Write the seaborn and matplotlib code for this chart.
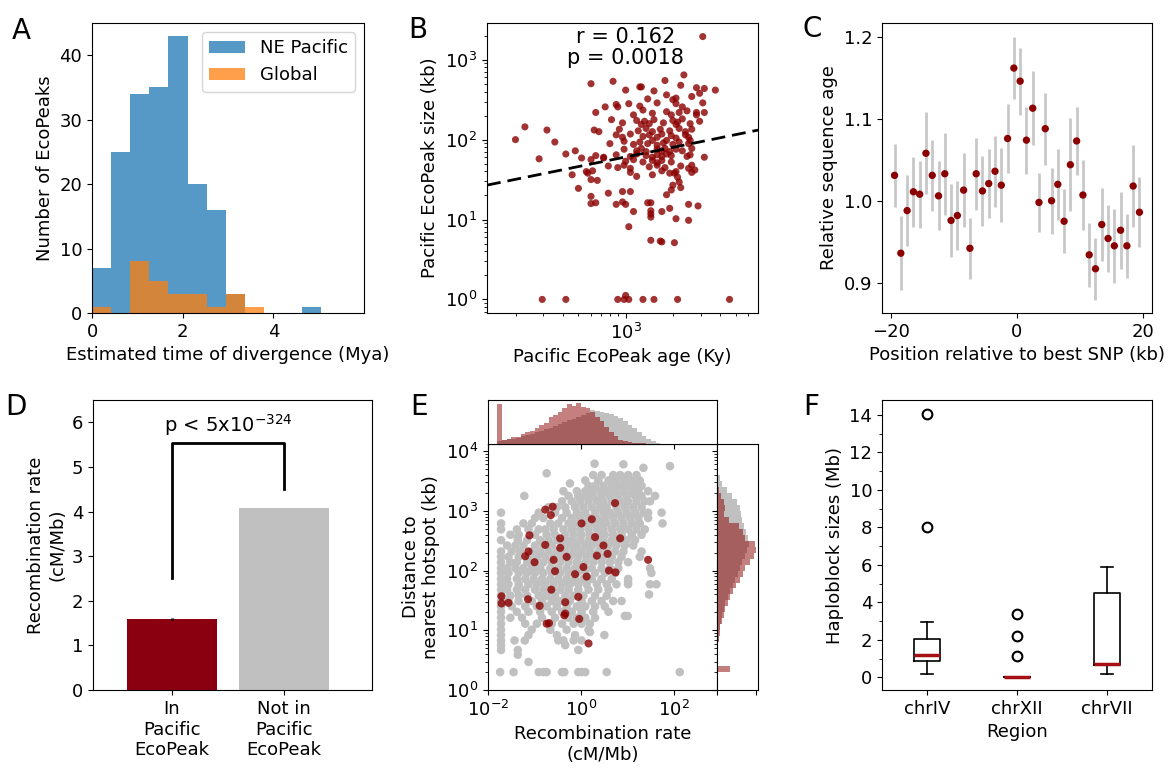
import numpy as np
import pandas as pd
import matplotlib
matplotlib.use("Agg")
import matplotlib.pyplot as plt
import seaborn as sns
from matplotlib.ticker import NullLocator, MultipleLocator

plt.rcParams["font.family"] = ["DejaVu Sans"]
plt.rcParams["font.size"] = 13

DARKRED = "#8b0000"

# ---- A: histogram of divergence times (counts per bin)
a_bin_max = 5.06
ne_counts = [7, 25, 34, 35, 43, 20, 16, 3, 0, 0, 0, 1]
global_counts = [1, 0, 8, 5, 3, 3, 1, 3, 1, 0, 0, 0]

# ---- B: EcoPeak age vs size (log10 values)
b_points = [
    (3.49, 3.29), (3.37, 2.81),
    (2.78, 2.70), (2.92, 2.73), (3.00, 2.62), (3.09, 2.66), (3.10, 2.66), (3.18, 2.61), (3.25, 2.74),
    (3.35, 2.68), (3.45, 2.65), (3.50, 2.64), (3.57, 2.62),
    (3.14, 2.51), (3.26, 2.56), (3.32, 2.52), (3.42, 2.54), (3.47, 2.58),
    (2.87, 2.41), (2.94, 2.44), (2.95, 2.41), (3.02, 2.45), (3.09, 2.42), (3.11, 2.37), (3.20, 2.46),
    (3.30, 2.50), (3.32, 2.45), (3.36, 2.41), (3.45, 2.34), (3.49, 2.46),
    (2.81, 2.34), (3.05, 2.31), (3.17, 2.33), (3.26, 2.35), (3.29, 2.31), (3.34, 2.34), (3.39, 2.36),
    (3.45, 2.31), (3.50, 2.34),
    (2.91, 2.25), (2.98, 2.21), (3.07, 2.24), (3.10, 2.19), (3.12, 2.23), (3.15, 2.20), (3.18, 2.25),
    (3.24, 2.21), (3.30, 2.24), (3.32, 2.19), (3.33, 2.22), (3.36, 2.26), (3.41, 2.20), (3.47, 2.23),
    (2.36, 2.16), (2.50, 2.12), (2.80, 2.12), (2.83, 2.10), (2.96, 2.13), (3.08, 2.11), (3.13, 2.14),
    (3.17, 2.10), (3.22, 2.13), (3.28, 2.11), (3.34, 2.14), (3.38, 2.10), (3.42, 2.13),
    (2.94, 2.06), (2.98, 2.03), (3.03, 2.07), (3.11, 2.04), (3.15, 2.06), (3.20, 2.03), (3.23, 2.07),
    (3.29, 2.05), (3.32, 2.02), (3.38, 2.06), (3.40, 2.03),
    (2.30, 2.00), (2.55, 1.97), (2.90, 1.95), (2.99, 1.98), (3.05, 1.94), (3.09, 1.97), (3.14, 1.95),
    (3.17, 1.99), (3.20, 1.93), (3.24, 1.96), (3.26, 1.99), (3.30, 1.94), (3.34, 1.97), (3.40, 1.95),
    (3.41, 1.99),
    (2.99, 1.88), (3.07, 1.86), (3.10, 1.89), (3.13, 1.85), (3.20, 1.88), (3.23, 1.86), (3.25, 1.89),
    (3.28, 1.85), (3.32, 1.88), (3.36, 1.86), (3.42, 1.89),
    (2.62, 1.82), (2.68, 1.86), (2.81, 1.80), (2.86, 1.78), (2.94, 1.81), (3.03, 1.79), (3.07, 1.82),
    (3.13, 1.80), (3.17, 1.78), (3.20, 1.81), (3.23, 1.79), (3.26, 1.82), (3.29, 1.80), (3.39, 1.79),
    (3.41, 1.81),
    (2.45, 1.76), (2.72, 1.77), (2.78, 1.75), (2.86, 1.77), (3.00, 1.73), (3.05, 1.75), (3.11, 1.72),
    (3.17, 1.74), (3.20, 1.71), (3.23, 1.74), (3.29, 1.72), (3.50, 1.78),
    (2.89, 1.67), (2.95, 1.65), (2.99, 1.68), (3.03, 1.64), (3.15, 1.66), (3.20, 1.68), (3.25, 1.65),
    (3.35, 1.67), (3.40, 1.64), (3.42, 1.68),
    (2.75, 1.60), (2.76, 1.58), (2.79, 1.61), (3.03, 1.59), (3.23, 1.61), (3.28, 1.58), (3.32, 1.60),
    (3.42, 1.59), (3.44, 1.62),
    (2.66, 1.56), (2.78, 1.50), (2.82, 1.49), (3.07, 1.54), (3.17, 1.56), (3.31, 1.58), (3.33, 1.53),
    (3.34, 1.47),
    (2.70, 1.39), (3.30, 1.43), (3.29, 1.37), (3.35, 1.40),
    (2.78, 1.29), (2.89, 1.33), (2.98, 1.35), (3.03, 1.35), (3.26, 1.31),
    (2.78, 1.20), (2.81, 1.21), (2.94, 1.19), (2.98, 1.22), (3.00, 1.19), (3.14, 1.21), (3.16, 1.21),
    (3.46, 1.17), (3.40, 1.19),
    (3.05, 1.10), (3.16, 1.11), (3.16, 1.03), (3.23, 1.10), (3.28, 1.14), (3.32, 1.01), (3.40, 0.99),
    (3.16, 1.07),
    (3.02, 0.91),
    (3.16, 0.74), (3.22, 0.73), (3.23, 0.72), (3.31, 0.71),
    (2.47, 0.0), (2.62, 0.0), (2.95, 0.0), (2.99, 0.0), (3.00, 0.05), (3.02, 0.0), (3.11, 0.0),
    (3.18, 0.0), (3.33, 0.0), (3.66, 0.0),
]
b_fit_slope = 0.40       # log-log regression
b_fit_intercept = 0.583

# ---- C: relative sequence age around best SNP
c_pos = [-19.5, -18.5, -17.5, -16.5, -15.5, -14.5, -13.5, -12.5, -11.5, -10.5,
         -9.5, -8.5, -7.5, -6.5, -5.5, -4.5, -3.5, -2.5, -1.5, -0.5,
         0.5, 1.5, 2.5, 3.5, 4.5, 5.5, 6.5, 7.5, 8.5, 9.5,
         10.5, 11.5, 12.5, 13.5, 14.5, 15.5, 16.5, 17.5, 18.5, 19.5]
c_age = [1.031, 0.936, 0.988, 1.011, 1.008, 1.058, 1.031, 1.006, 1.033, 0.976,
         0.982, 1.013, 0.942, 1.033, 1.012, 1.021, 1.036, 1.019, 1.076, 1.162,
         1.146, 1.074, 1.113, 0.998, 1.088, 1.000, 1.020, 0.975, 1.044, 1.073,
         1.007, 0.934, 0.917, 0.971, 0.954, 0.945, 0.964, 0.945, 1.018, 0.986]
c_err = [0.038, 0.045, 0.043, 0.043, 0.041, 0.050, 0.043, 0.042, 0.050, 0.045,
         0.042, 0.045, 0.037, 0.044, 0.043, 0.042, 0.043, 0.045, 0.042, 0.038,
         0.041, 0.041, 0.045, 0.036, 0.044, 0.040, 0.043, 0.039, 0.057, 0.041,
         0.043, 0.039, 0.038, 0.044, 0.041, 0.045, 0.047, 0.039, 0.050, 0.043]

# ---- D: mean recombination rate
d_groups = ["In\nPacific\nEcoPeak", "Not in\nPacific\nEcoPeak"]
d_means = [1.59, 4.08]
d_errs = [0.03, 0.01]
d_colors = ["#8b0010", "#c0c0c0"]
d_bracket = [2.5, 5.53, 5.53, 4.5]

# ---- E: recombination rate vs distance to hotspot (log10 values)
# rows of (log10 distance, [log10 rate, ...]) for the background windows
gray_rows = [
    (3.79, [0.29]), (3.78, [0.91]), (3.75, [1.91]), (3.72, [1.34]), (3.63, [-0.74]),
    (3.60, [0.26, 0.44, 0.69, 0.84, 1.01, 1.19]),
    (3.51, [0.09, 0.37, 0.59, 0.76, 0.94, 1.12, 1.26]),
    (3.46, [-0.24]),
    (3.42, [0.16, 0.30, 0.48, 0.66, 0.84, 1.01, 1.16, 1.30]),
    (3.33, [-0.38, -0.09, 0.09, 0.23, 0.41, 0.55, 0.73, 0.91, 1.09, 1.23, 1.44]),
    (3.25, [-1.22, -0.27, -0.06, 0.09, 0.26, 0.44, 0.62, 0.80, 0.98, 1.16, 1.30, 1.59]),
    (3.16, [-0.41, -0.20, -0.02, 0.16, 0.34, 0.48, 0.66, 0.84, 1.01, 1.19, 1.37, 1.48]),
    (3.06, [-0.70, -0.52, -0.34, -0.13, 0.05, 0.23, 0.41, 0.55, 0.76, 0.94, 1.12, 1.30]),
    (2.97, [-1.72, -0.91, -0.56, -0.31, -0.09, 0.09, 0.30, 0.48, 0.62, 0.80, 0.98, 1.16, 1.34, 1.44, 1.73]),
    (2.88, [-0.99, -0.81, -0.41, -0.20, -0.02, 0.16, 0.34, 0.51, 0.69, 0.87, 1.05, 1.23, 1.44]),
    (2.79, [-1.72, -1.24, -1.06, -0.66, -0.49, -0.27, -0.13, 0.09, 0.26, 0.41, 0.55, 0.73, 0.91, 1.09, 1.26, 1.75]),
    (2.69, [-1.72, -1.38, -1.13, -0.91, -0.77, -0.59, -0.38, -0.20, -0.02, 0.16, 0.34, 0.48, 0.66, 0.84, 1.01, 1.19, 1.37]),
    (2.60, [-1.52, -1.34, -0.99, -0.74, -0.56, -0.34, -0.16, 0.01, 0.19, 0.37, 0.51, 0.69, 0.87, 1.09, 1.30]),
    (2.56, [-1.36]),
    (2.51, [-1.72, -1.36, -1.16, -0.88, -0.70, -0.52, -0.34, -0.20, -0.02, 0.16, 0.34, 0.48, 0.66, 0.80, 0.98, 1.16]),
    (2.42, [-1.59, -1.41, -1.24, -0.99, -0.81, -0.63, -0.41, -0.24, -0.09, 0.09, 0.23, 0.41, 0.59, 0.76, 0.94, 1.12]),
    (2.32, [-1.72, -1.49, -1.31, -1.06, -0.88, -0.70, -0.52, -0.34, -0.16, 0.01, 0.19, 0.37, 0.55, 0.73, 0.91, 1.30]),
    (2.23, [-1.72, -1.56, -1.34, -1.13, -0.95, -0.77, -0.59, -0.41, -0.24, -0.06, 0.12, 0.30, 0.48, 0.66, 0.87, 1.26]),
    (2.14, [-1.72, -1.52, -1.38, -1.16, -0.99, -0.81, -0.63, -0.45, -0.27, -0.09, 0.09, 0.26, 0.44, 0.62, 0.80, 1.01]),
    (2.04, [-1.72, -1.59, -1.41, -1.24, -1.06, -0.88, -0.66, -0.49, -0.31, -0.13, 0.05, 0.23, 0.44, 0.62, 0.80, 1.48]),
    (1.96, [-1.72, -1.56, -1.34, -1.16, -0.99, -0.81, -0.63, -0.45, -0.27, -0.09, 0.09, 0.30, 0.51, 0.73, 1.51]),
    (1.86, [-1.72, -1.59, -1.38, -1.20, -1.02, -0.84, -0.66, -0.49, -0.31, -0.13, 0.05, 0.23, 0.44, 0.66, 1.01]),
    (1.81, [1.01]),
    (1.77, [-1.72, -1.56, -1.34, -1.13, -0.95, -0.77, -0.59, -0.41, -0.24, -0.06, 0.12, 0.34, 0.55, 0.76, 1.01, 1.48, 1.62]),
    (1.68, [-1.72, -1.59, -1.38, -1.20, -0.99, -0.81, -0.63, -0.45, -0.27, -0.06, 0.16, 0.37, 0.59]),
    (1.60, [1.46]),
    (1.58, [-1.72, -1.52, -1.34, -1.16, -0.91, -0.74, -0.56, -0.34, -0.16, 0.05, 0.30, 0.55]),
    (1.49, [-1.72, -1.56, -1.34, -1.06, -0.84, -0.63, -0.45, -0.24, 0.01, 0.23, 0.44, 0.69, 0.87]),
    (1.40, [-1.72, -1.49, -1.20, -0.95, -0.74, -0.52, -0.31, -0.09, 0.09, 0.30, 0.51]),
    (1.31, [-1.72, -1.38, -1.13, -0.88, -0.63, -0.41, -0.20, 0.01, 0.26, 0.59]),
    (1.24, [0.94, 1.00]),
    (1.21, [-1.72, -1.52, -1.27, -0.84, -0.56, -0.27, -0.09, 0.09, 0.30]),
    (1.11, [-1.72, -1.20, -0.95, -0.63, -0.41, -0.16, 0.01, 0.19]),
    (1.01, [-1.72, -1.06, -0.66, -0.31, 0.16]),
    (0.97, [0.19]),
    (0.92, [-1.72, -1.13, -0.52, -0.13, 0.50]),
    (0.83, [-1.72, -1.43, -1.21, -0.49, -0.38, -0.16, 0.01]),
    (0.75, [-1.72, -0.34]),
    (0.67, [-1.72, -1.36, -0.06]),
    (0.59, [-1.36]),
    (0.47, [-1.13]),
    (0.30, [-1.74, -1.45, -0.91, -0.81, -0.74, -0.41, -0.36, -0.06, 0.01, 0.09, 0.55, 2.12]),
]
eco_rate_log = [0.73, -0.77, -0.61, -0.65, 0.23, 0.01, -1.11, -0.45, -0.77, -0.45, -1.13, -1.20,
                -0.31, -0.59, -1.00, 0.34, 0.57, 0.48, 0.30, 0.84, 1.44, 0.05, 0.12, -0.13,
                -0.56, 0.60, 0.74, -0.64, -1.71, -1.71, -1.56, -1.14, -0.89, -0.34, -0.06, -0.34,
                -0.04, -0.36, -0.74, -0.69, 0.16]
eco_dist_log = [3.13, 3.02, 3.07, 2.93, 2.86, 2.79, 2.59, 2.54, 2.43, 2.38, 2.32, 2.24,
                2.23, 2.18, 2.14, 2.25, 2.28, 2.42, 2.56, 2.54, 2.18, 2.06, 1.90, 1.94,
                1.99, 2.00, 1.97, 1.68, 1.57, 1.45, 1.46, 1.52, 1.41, 1.47, 1.56, 1.28,
                1.19, 1.25, 1.11, 1.12, 0.78]

# marginal histograms (bin heights, bins of 0.1 in log10)
top_bin_start = -1.8
top_gray = [10, 12, 14, 16, 19, 23, 27, 31, 35, 39, 43, 47, 52, 58, 64, 70, 75, 80,
            86, 92, 100, 98, 96, 93, 88, 83, 76, 68, 57, 46, 35, 24, 15, 9, 4, 1]
top_red = [117, 12, 14, 20, 22, 30, 35, 38, 48, 55, 62, 80, 85, 95, 105, 118, 112, 122,
           110, 105, 95, 80, 68, 50, 36, 24, 13, 8, 5, 4, 3, 2, 1, 0, 0, 0]
right_bin_start = 0.3
right_gray = [3, 1, 2, 3, 4, 5, 7, 9, 12, 15, 20, 25, 32, 40, 47, 55, 62, 70, 75, 85, 90,
              95, 92, 88, 80, 75, 72, 68, 60, 45, 30, 15, 8, 3]
right_red = [40, 0, 3, 3, 4, 6, 8, 10, 15, 20, 25, 32, 40, 48, 58, 68, 78, 85, 100, 110,
             118, 115, 85, 78, 65, 35, 22, 25, 20, 12, 5, 0, 0, 0]

# ---- F: haploblock sizes (box statistics)
f_regions = ["chrIV", "chrXII", "chrVII"]
f_whislo = [0.18, 0.04, 0.18]
f_q1 = [0.89, 0.04, 0.66]
f_med = [1.19, 0.04, 0.69]
f_q3 = [2.06, 0.04, 4.48]
f_whishi = [2.97, 0.04, 5.87]
f_fliers = [[8.04, 14.04], [1.16, 2.2, 3.38], []]


W, H = 1171, 769
fig = plt.figure(figsize=(W / 100, H / 100), dpi=100)


def rect(x0, y0, x1, y1):
    return [x0 / W, 1 - y1 / H, (x1 - x0) / W, (y1 - y0) / H]


ax_a = fig.add_axes(rect(92, 23, 364, 313))
ax_b = fig.add_axes(rect(487, 23, 758, 313))
ax_c = fig.add_axes(rect(882, 23, 1152, 313))
ax_d = fig.add_axes(rect(93, 400, 372, 690))
ax_e = fig.add_axes(rect(488, 444, 717, 690))
ax_et = fig.add_axes(rect(488, 400, 717, 444), sharex=ax_e)
ax_er = fig.add_axes(rect(717, 444, 758, 690), sharey=ax_e)
ax_f = fig.add_axes(rect(882, 400, 1152, 690))

# A
a_edges = np.linspace(0, a_bin_max, len(ne_counts) + 1)
a_df = pd.DataFrame({"t": (a_edges[:-1] + a_edges[1:]) / 2,
                     "ne": ne_counts, "glob": global_counts})
sns.histplot(data=a_df, x="t", weights="ne", bins=a_edges.tolist(), element="step", fill=True,
             color="C0", alpha=0.75, linewidth=0, label="NE Pacific", ax=ax_a)
sns.histplot(data=a_df, x="t", weights="glob", bins=a_edges.tolist(), element="step", fill=True,
             color="C1", alpha=0.75, linewidth=0, label="Global", ax=ax_a)
ax_a.set_xlim(0, 6)
ax_a.set_ylim(0, 45)
ax_a.set_xticks([0, 2, 4])
ax_a.set_yticks([0, 10, 20, 30, 40])
ax_a.set_xlabel("Estimated time of divergence (Mya)")
ax_a.set_ylabel("Number of EcoPeaks")
ax_a.legend(loc="upper right")

# B
b_df = pd.DataFrame({"age": 10 ** np.array([p[0] for p in b_points]),
                     "size": 10 ** np.array([p[1] for p in b_points])})
sns.scatterplot(data=b_df, x="age", y="size", color=DARKRED, alpha=0.8, s=26,
                edgecolor="none", ax=ax_b)
ax_b.set_xscale("log")
ax_b.set_yscale("log")
b_xlim = (10 ** 2.119, 10 ** 3.841)
ax_b.set_xlim(*b_xlim)
ax_b.set_ylim(10 ** -0.17, 10 ** 3.46)
fit_x = np.array(b_xlim)
ax_b.plot(fit_x, 10 ** (b_fit_intercept + b_fit_slope * np.log10(fit_x)), color="black",
          linestyle="--", linewidth=2, dashes=(5, 2.5))
ax_b.text(0.51, 0.915, "r = 0.162\np = 0.0018", transform=ax_b.transAxes, ha="center",
          va="center", fontsize=15, multialignment="center", linespacing=1.05)
ax_b.set_xlabel("Pacific EcoPeak age (Ky)")
ax_b.set_ylabel("Pacific EcoPeak size (kb)")

# C
ax_c.errorbar(c_pos, c_age, yerr=c_err, fmt="none", ecolor="#c8c8c8", elinewidth=2, zorder=1)
sns.scatterplot(x=c_pos, y=c_age, color=DARKRED, s=28, edgecolor="none", zorder=3, ax=ax_c)
ax_c.set_xlim(-21.5, 21.5)
ax_c.set_ylim(0.863, 1.217)
ax_c.set_xticks([-20, 0, 20])
ax_c.set_yticks([0.9, 1.0, 1.1, 1.2])
ax_c.set_xlabel("Position relative to best SNP (kb)")
ax_c.set_ylabel("Relative sequence age")

# D
sns.barplot(x=d_groups, y=d_means, hue=d_groups, palette=d_colors, legend=False,
            errorbar=None, width=0.8, saturation=1, ax=ax_d)
ax_d.errorbar(range(len(d_groups)), d_means, yerr=d_errs, fmt="none", ecolor="black", elinewidth=2)
ax_d.plot([0, 0, 1, 1], d_bracket, color="black", linewidth=2)
ax_d.text(0.5, 5.93, r"p < 5x10$^{-324}$", ha="center", va="center", fontsize=14)
ax_d.set_xlim(-0.7, 1.78)
ax_d.set_ylim(0, 6.5)
ax_d.set_yticks([0, 1, 2, 3, 4, 5, 6])
ax_d.set_ylabel("Recombination rate\n(cM/Mb)")

# E
e_gray = pd.DataFrame({"rate": 10 ** np.array([x for y, xs in gray_rows for x in xs]),
                       "dist": 10 ** np.array([y for y, xs in gray_rows for x in xs])})
e_eco = pd.DataFrame({"rate": 10 ** np.array(eco_rate_log), "dist": 10 ** np.array(eco_dist_log)})
ax_e.set_xscale("log")
ax_e.set_yscale("log")
sns.scatterplot(data=e_gray, x="rate", y="dist", color="#c0c0c0", s=38, edgecolor="none", ax=ax_e)
sns.scatterplot(data=e_eco, x="rate", y="dist", color=DARKRED, alpha=0.8, s=34,
                edgecolor="none", ax=ax_e)

top_df = pd.DataFrame({"c": 10 ** (top_bin_start + 0.05 + 0.1 * np.arange(len(top_gray))),
                       "gray": top_gray, "red": top_red})
top_range = (top_bin_start, top_bin_start + 0.1 * len(top_gray))
for col, colr, al in [("gray", "#c0c0c0", 1.0), ("red", DARKRED, 0.5)]:
    sns.histplot(data=top_df, x="c", weights=col, binwidth=0.1, binrange=top_range,
                 log_scale=True, element="step", fill=True, color=colr, alpha=al,
                 linewidth=0, ax=ax_et)
ax_et.set_ylim(0, 130)
ax_et.set_yticks([])
ax_et.set_xlabel("")
ax_et.set_ylabel("")
ax_et.tick_params(labelbottom=False)

right_df = pd.DataFrame({"c": 10 ** (right_bin_start + 0.05 + 0.1 * np.arange(len(right_gray))),
                         "gray": right_gray, "red": right_red})
right_range = (right_bin_start, right_bin_start + 0.1 * len(right_gray))
for col, colr, al in [("gray", "#c0c0c0", 1.0), ("red", DARKRED, 0.5)]:
    sns.histplot(data=right_df, y="c", weights=col, binwidth=0.1, binrange=right_range,
                 log_scale=True, element="step", fill=True, color=colr, alpha=al,
                 linewidth=0, ax=ax_er)
ax_er.set_xlim(0, 123)
ax_er.set_xticks([0, 118])
ax_er.set_xticklabels([])
ax_er.set_xlabel("")
ax_er.set_ylabel("")
ax_er.tick_params(labelleft=False)

# main E axis limits/ticks last (shared with the marginals)
ax_e.set_xlim(1e-2, 10 ** 2.92)
ax_e.set_ylim(1, 10 ** 4.12)
ax_e.set_xticks([1e-2, 1, 1e2])
ax_e.xaxis.set_minor_locator(NullLocator())
ax_e.set_xlabel("Recombination rate\n(cM/Mb)")
ax_e.set_ylabel("Distance to\nnearest hotspot (kb)")

# F
f_stats = [dict(label=r, whislo=f_whislo[i], q1=f_q1[i], med=f_med[i], q3=f_q3[i],
                whishi=f_whishi[i], fliers=f_fliers[i]) for i, r in enumerate(f_regions)]
ax_f.bxp(f_stats, positions=[1, 2, 3], widths=0.28,
         boxprops=dict(color="black", linewidth=1.2),
         whiskerprops=dict(color="black", linewidth=1.2),
         capprops=dict(color="black", linewidth=1.2),
         medianprops=dict(color="#a50f15", linewidth=2.5),
         flierprops=dict(marker="o", markerfacecolor="none", markeredgecolor="black",
                         markersize=7, markeredgewidth=1.5))
ax_f.set_xlim(0.5, 3.5)
ax_f.set_ylim(-0.68, 14.8)
ax_f.set_yticks([0, 2, 4, 6, 8, 10, 12, 14])
ax_f.yaxis.set_minor_locator(MultipleLocator(1))
ax_f.set_xlabel("Region")
ax_f.set_ylabel("Haploblock sizes (Mb)")

# panel letters
for letter, x, y in [("A", 12, 39), ("B", 408, 38), ("C", 803, 37),
                     ("D", 5, 415), ("E", 410, 415), ("F", 803, 415)]:
    fig.text(x / W, 1 - y / H, letter, fontsize=20, ha="left", va="baseline")

fig.savefig("out.png", dpi=100)
